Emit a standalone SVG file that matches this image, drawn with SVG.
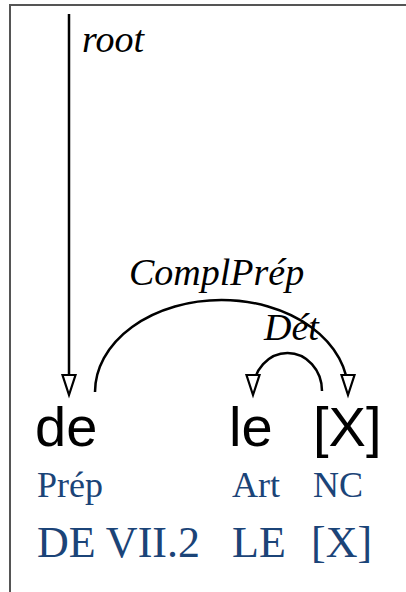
<svg xmlns="http://www.w3.org/2000/svg" width="406" height="592" viewBox="0 0 406 592">
<style>
.word{font-family:"Liberation Sans",Arial,sans-serif;font-size:56px;fill:#000}
.cat{font-family:"Liberation Serif","Times New Roman",serif;font-size:36px;fill:#1B4478}
.lex{font-family:"Liberation Serif","Times New Roman",serif;font-size:44px;fill:#1B4478}
.rel{font-family:"Liberation Serif","Times New Roman",serif;font-style:italic;font-size:38px;fill:#000}
.edge{fill:none;stroke:#000;stroke-width:2.5}
.head{fill:#fff;stroke:#000;stroke-width:2.2;stroke-linejoin:miter}
</style>
<rect width="406" height="592" fill="#fff"/>
<path d="M10,592 V5 H406" fill="none" stroke="#555" stroke-width="2"/>
<g id="connectors">
<line class="edge" x1="69" y1="14" x2="69" y2="382"/>
<polygon class="head" points="62.5,375 75.5,375 69,395"/>
<text class="rel" x="82" y="52">root</text>
<path class="edge" d="M95,392 A126.5,92 0 0 1 348,392"/>
<polygon class="head" points="341.5,375 354.5,375 348,395"/>
<text class="rel" x="129" y="285">ComplPrép</text>
<path class="edge" d="M322,391 A34.5,38 0 0 0 253,391"/>
<polygon class="head" points="246.5,375 259.5,375 253,395"/>
<text class="rel" x="264" y="340">Dét</text>
</g>
<g id="node-de">
<text class="word" x="35" y="446">de</text>
<text class="cat" x="37" y="497">Prép</text>
<text class="lex" x="37" y="557">DE VII.2</text>
</g>
<g id="node-le">
<text class="word" x="229" y="446">le</text>
<text class="cat" x="232" y="497">Art</text>
<text class="lex" x="232" y="557">LE</text>
</g>
<g id="node-X">
<text class="word" x="313" y="446">[X]</text>
<text class="cat" x="313" y="497">NC</text>
<text class="lex" x="311" y="557">[X]</text>
</g>
</svg>
